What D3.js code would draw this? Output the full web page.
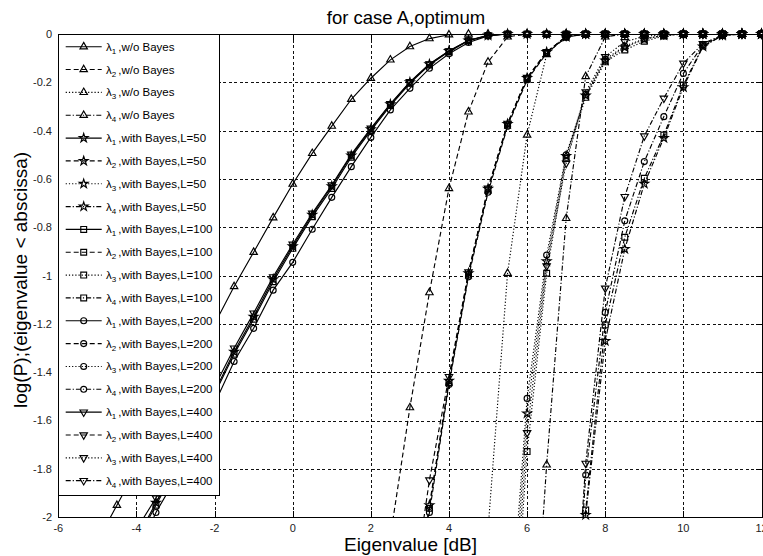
<!DOCTYPE html>
<html>
<head>
<meta charset="utf-8">
<script src="https://cdn.jsdelivr.net/npm/d3@7"></script>
<style>
  body { margin: 0; background: #fff; }
  text { font-family: "Liberation Sans", Arial, sans-serif; fill: #000; }
</style>
</head>
<body>
<div id="chart"></div>
<script>
const _ = null;

// eigenvalue grid [dB]
const dB = [-6, -5.5, -5, -4.5, -4, -3.5, -3, -2.5, -2, -1.5, -1, -0.5, 0, 0.5, 1, 1.5, 2, 2.5, 3, 3.5,
            4, 4.5, 5, 5.5, 6, 6.5, 7, 7.5, 8, 8.5, 9, 9.5, 10, 10.5, 11, 11.5, 12];

// w/o Bayes
const l1NoBayes = [_, _, -2.1, -1.95, -1.8, -1.65, -1.5, -1.35, -1.2, -1.045, -0.903, -0.76, -0.621, -0.494, -0.381, -0.27, -0.183, -0.107, -0.052, -0.019,
                   -0.003, 0, 0, 0, 0, 0, 0, 0, 0, 0, 0, 0, 0, 0, 0, 0, 0];
const l2NoBayes = [_, _, _, _, _, _, _, _, _, _, _, _, _, _, _, _, _, -2.08, -1.546, -1.07,
                   -0.639, -0.322, -0.116, -0.012, 0, 0, 0, 0, 0, 0, 0, 0, 0, 0, 0, 0, 0];
const l3NoBayes = [_, _, _, _, _, _, _, _, _, _, _, _, _, _, _, _, _, _, _, _,
                   _, _, -2.05, -0.99, -0.418, -0.085, -0.005, 0, 0, 0, 0, 0, 0, 0, 0, 0, 0];
const l4NoBayes = [_, _, _, _, _, _, _, _, _, _, _, _, _, _, _, _, _, _, _, _,
                   _, _, _, _, -3.0, -1.783, -0.763, -0.176, -0.012, 0, 0, 0, 0, 0, 0, 0, 0];

// with Bayes, L=50
const l1L50 = [_, _, _, _, -2.09, -1.94, -1.79, -1.635, -1.48, -1.315, -1.17, -1.015, -0.878, -0.748, -0.63, -0.503, -0.394, -0.291, -0.2, -0.125,
               -0.07, -0.027, -0.006, 0, 0, 0, 0, 0, 0, 0, 0, 0, 0, 0, 0, 0, 0];
const l2L50 = [_, _, _, _, _, _, _, _, _, _, _, _, _, _, _, _, _, _, -2.5, -1.95,
               -1.435, -0.99, -0.64, -0.372, -0.182, -0.075, -0.011, 0, 0, 0, 0, 0, 0, 0, 0, 0, 0];
const l3L50 = [_, _, _, _, _, _, _, _, _, _, _, _, _, _, _, _, _, _, _, _,
               _, _, _, -2.7, -1.57, -0.94, -0.505, -0.255, -0.11, -0.055, -0.022, -0.005, 0, 0, 0, 0, 0];
const l4L50 = [_, _, _, _, _, _, _, _, _, _, _, _, _, _, _, _, _, _, _, _,
               _, _, _, _, _, _, -3.3, -1.99, -1.27, -0.89, -0.62, -0.43, -0.22, -0.052, -0.006, 0, 0];

// with Bayes, L=100
const l1L100 = [_, _, _, _, -2.1, -1.95, -1.8, -1.645, -1.49, -1.325, -1.18, -1.025, -0.887, -0.756, -0.639, -0.51, -0.4, -0.296, -0.204, -0.128,
                -0.073, -0.028, -0.006, 0, 0, 0, 0, 0, 0, 0, 0, 0, 0, 0, 0, 0, 0];
const l2L100 = [_, _, _, _, _, _, _, _, _, _, _, _, _, _, _, _, _, _, -2.5, -1.963,
                -1.443, -0.997, -0.646, -0.377, -0.185, -0.077, -0.012, 0, 0, 0, 0, 0, 0, 0, 0, 0, 0];
const l3L100 = [_, _, _, _, _, _, _, _, _, _, _, _, _, _, _, _, _, _, _, _,
                _, _, _, -2.9, -1.728, -0.99, -0.515, -0.262, -0.115, -0.066, -0.03, -0.008, 0, 0, 0, 0, 0];
const l4L100 = [_, _, _, _, _, _, _, _, _, _, _, _, _, _, _, _, _, _, _, _,
                _, _, _, _, _, _, -3.3, -1.97, -1.204, -0.841, -0.597, -0.418, -0.211, -0.05, -0.006, 0, 0];

// with Bayes, L=200
const l1L200 = [_, _, _, _, -2.16, -1.98, -1.84, -1.69, -1.53, -1.355, -1.218, -1.06, -0.945, -0.808, -0.676, -0.549, -0.428, -0.314, -0.225, -0.142,
                -0.082, -0.035, -0.008, 0, 0, 0, 0, 0, 0, 0, 0, 0, 0, 0, 0, 0, 0];
const l2L200 = [_, _, _, _, _, _, _, _, _, _, _, _, _, _, _, _, _, _, -2.55, -1.98,
                -1.45, -1.005, -0.655, -0.382, -0.19, -0.08, -0.013, 0, 0, 0, 0, 0, 0, 0, 0, 0, 0];
const l3L200 = [_, _, _, _, _, _, _, _, _, _, _, _, _, _, _, _, _, _, _, _,
                _, _, _, -2.6, -1.508, -0.915, -0.5, -0.25, -0.105, -0.05, -0.02, -0.005, 0, 0, 0, 0, 0];
const l4L200 = [_, _, _, _, _, _, _, _, _, _, _, _, _, _, _, _, _, _, _, _,
                _, _, _, _, _, _, -3.1, -1.825, -1.152, -0.773, -0.528, -0.342, -0.163, -0.045, -0.005, 0, 0];

// with Bayes, L=400
const l1L400 = [_, _, _, _, -2.05, -1.92, -1.77, -1.61, -1.46, -1.3, -1.155, -1.005, -0.87, -0.742, -0.625, -0.498, -0.39, -0.289, -0.198, -0.124,
                -0.07, -0.026, -0.005, 0, 0, 0, 0, 0, 0, 0, 0, 0, 0, 0, 0, 0, 0];
const l2L400 = [_, _, _, _, _, _, _, _, _, _, _, _, _, _, _, _, _, _, -2.4, -1.846,
                -1.418, -0.985, -0.638, -0.37, -0.18, -0.074, -0.01, 0, 0, 0, 0, 0, 0, 0, 0, 0, 0];
const l3L400 = [_, _, _, _, _, _, _, _, _, _, _, _, _, _, _, _, _, _, _, _,
                _, _, _, -2.8, -1.65, -0.96, -0.535, -0.24, -0.094, -0.032, -0.01, -0.002, 0, 0, 0, 0, 0];
const l4L400 = [_, _, _, _, _, _, _, _, _, _, _, _, _, _, _, _, _, _, _, _,
                _, _, _, _, _, _, -3.0, -1.777, -1.052, -0.673, -0.422, -0.266, -0.121, -0.04, -0.004, 0, 0];

const xTicks = [-6, -4, -2, 0, 2, 4, 6, 8, 10, 12];
const yTicks = [0, -0.2, -0.4, -0.6, -0.8, -1, -1.2, -1.4, -1.6, -1.8, -2];
const yTickLabels = ["0", "-0.2", "-0.4", "-0.6", "-0.8", "-1", "-1.2", "-1.4", "-1.6", "-1.8", "-2"];

const variants = ["w/o Bayes", "with Bayes,L=50", "with Bayes,L=100", "with Bayes,L=200", "with Bayes,L=400"];
const markers = ["tri", "star", "square", "circle", "tridown"];
const seriesValues = [
  [l1NoBayes, l2NoBayes, l3NoBayes, l4NoBayes],
  [l1L50, l2L50, l3L50, l4L50],
  [l1L100, l2L100, l3L100, l4L100],
  [l1L200, l2L200, l3L200, l4L200],
  [l1L400, l2L400, l3L400, l4L400]
];
// line style per eigenvalue index: '-', '--', ':', '-.'
const dashes = [null, "5,3", "1.2,2", "5,2,1.2,2"];

const W = 763, H = 556;
const x = d3.scaleLinear().domain([-6, 12]).range([58.3, 761.5]);
const y = d3.scaleLinear().domain([-2, 0]).range([517.3, 34]);

const svg = d3.select("#chart").append("svg")
  .attr("width", W).attr("height", H)
  .style("display", "block");

svg.append("defs").append("clipPath").attr("id", "plotclip")
  .append("rect")
  .attr("x", x(-6)).attr("y", y(0))
  .attr("width", x(12) - x(-6)).attr("height", y(-2) - y(0));

// grid
const grid = svg.append("g").attr("class", "grid")
  .attr("stroke", "#111").attr("stroke-width", 1).attr("stroke-dasharray", "3,2.5")
  .attr("shape-rendering", "crispEdges");
grid.selectAll("line.gx").data(xTicks.slice(1, -1)).enter().append("line")
  .attr("x1", d => Math.round(x(d)) + 0.5).attr("x2", d => Math.round(x(d)) + 0.5)
  .attr("y1", y(0)).attr("y2", y(-2));
grid.selectAll("line.gy").data(yTicks.slice(1, -1)).enter().append("line")
  .attr("y1", d => Math.round(y(d)) + 0.5).attr("y2", d => Math.round(y(d)) + 0.5)
  .attr("x1", x(-6)).attr("x2", x(12));

function markerPath(shape) {
  if (shape === "tri") return d3.symbol(d3.symbolTriangle, 24)();
  if (shape === "tridown") return d3.symbol(d3.symbolTriangle, 24)();
  if (shape === "square") return d3.symbol(d3.symbolSquare, 34)();
  if (shape === "circle") return d3.symbol(d3.symbolCircle, 28)();
  return d3.symbol(d3.symbolStar, 24)();
}

// series
const line = d3.line()
  .defined(d => d[1] !== null)
  .x(d => x(d[0]))
  .y(d => y(d[1]));

const plot = svg.append("g");
seriesValues.forEach((group, gi) => {
  group.forEach((vals, li) => {
    const pts = dB.map((v, i) => [v, vals[i]]);
    plot.append("path")
      .datum(pts)
      .attr("clip-path", "url(#plotclip)")
      .attr("fill", "none")
      .attr("stroke", "#000")
      .attr("stroke-width", 1.15)
      .attr("stroke-dasharray", dashes[li])
      .attr("d", line);
    const rot = markers[gi] === "tridown" ? " rotate(180)" : "";
    plot.selectAll(null)
      .data(pts.filter(d => d[1] !== null && d[1] >= -2))
      .enter().append("path")
      .attr("d", markerPath(markers[gi]))
      .attr("transform", d => `translate(${x(d[0])},${y(d[1])})${rot}`)
      .attr("fill", "none")
      .attr("stroke", "#000")
      .attr("stroke-width", 1.15);
  });
});

// axes box and ticks
const axes = svg.append("g").attr("stroke", "#000").attr("stroke-width", 1)
  .attr("shape-rendering", "crispEdges");
axes.append("rect")
  .attr("x", Math.round(x(-6)) + 0.5).attr("y", Math.round(y(0)) + 0.5)
  .attr("width", Math.round(x(12)) - Math.round(x(-6)))
  .attr("height", Math.round(y(-2)) - Math.round(y(0)))
  .attr("fill", "none");
xTicks.forEach(t => {
  const px = Math.round(x(t)) + 0.5;
  axes.append("line").attr("x1", px).attr("x2", px).attr("y1", y(-2)).attr("y2", y(-2) - 6);
  axes.append("line").attr("x1", px).attr("x2", px).attr("y1", y(0)).attr("y2", y(0) + 6);
});
yTicks.forEach(t => {
  const py = Math.round(y(t)) + 0.5;
  axes.append("line").attr("y1", py).attr("y2", py).attr("x1", x(-6)).attr("x2", x(-6) + 6);
  axes.append("line").attr("y1", py).attr("y2", py).attr("x1", x(12)).attr("x2", x(12) - 6);
});

// tick labels
svg.append("g").selectAll("text").data(xTicks).enter().append("text")
  .attr("x", d => x(d)).attr("y", 532)
  .attr("text-anchor", "middle")
  .style("font-size", "11px").style("fill", "#222")
  .text(d => d);
svg.append("g").selectAll("text").data(yTicks).enter().append("text")
  .attr("x", 52).attr("y", d => y(d)).attr("dy", "0.35em")
  .attr("text-anchor", "end")
  .style("font-size", "11px").style("fill", "#222")
  .text((d, i) => yTickLabels[i]);

// labels
svg.append("text")
  .attr("x", 406).attr("y", 24)
  .attr("text-anchor", "middle")
  .style("font-size", "18.5px")
  .text("for case A,optimum");
svg.append("text")
  .attr("x", 410.5).attr("y", 551)
  .attr("text-anchor", "middle")
  .style("font-size", "19px")
  .text("Eigenvalue [dB]");
svg.append("text")
  .attr("transform", "translate(27," + 280 + ") rotate(-90)")
  .attr("text-anchor", "middle")
  .style("font-size", "19px")
  .text("log(P);(eigenvalue < abscissa)");

// legend
const legend = svg.append("g");
legend.append("rect")
  .attr("x", 58.5).attr("y", 34.5).attr("width", 161).attr("height", 461)
  .attr("fill", "#fff").attr("stroke", "#000").attr("stroke-width", 1)
  .attr("shape-rendering", "crispEdges");
let row = 0;
seriesValues.forEach((group, gi) => {
  group.forEach((vals, li) => {
    const cy = 46.7 + row * 22.84;
    const g = legend.append("g").attr("transform", `translate(0,${cy})`);
    g.append("line")
      .attr("x1", 65.7).attr("x2", 101.7).attr("y1", 0).attr("y2", 0)
      .attr("stroke", "#000").attr("stroke-width", 1.15)
      .attr("stroke-dasharray", dashes[li]);
    g.append("path")
      .attr("d", markerPath(markers[gi]))
      .attr("transform", `translate(83.7,0)${markers[gi] === "tridown" ? " rotate(180)" : ""}`)
      .attr("fill", "none").attr("stroke", "#000").attr("stroke-width", 1.15);
    const t = g.append("text").attr("x", 106).attr("y", 4).style("font-size", "11.5px");
    t.append("tspan").text("λ");
    t.append("tspan").attr("dy", 3).style("font-size", "8px").text(li + 1);
    t.append("tspan").attr("dy", -3).attr("dx", 2).text("," + variants[gi]);
    row++;
  });
});
</script>
</body>
</html>
